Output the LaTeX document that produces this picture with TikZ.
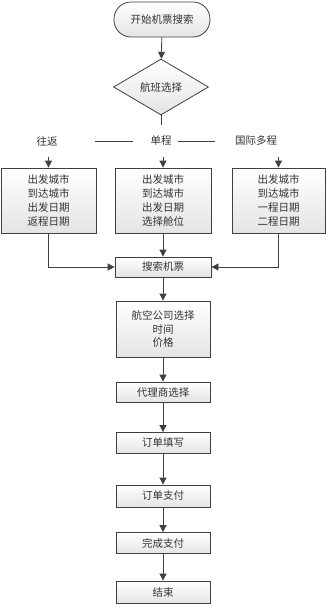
\documentclass[tikz,border=0pt]{standalone}
\usepackage{fontspec}
\setmainfont{Noto Sans CJK SC}
\usepackage{tikz}
\usetikzlibrary{arrows.meta,shapes.geometric}
\definecolor{flowLine}{RGB}{64,64,64}
\definecolor{flowText}{RGB}{51,51,51}
\definecolor{flowShade}{RGB}{228,228,228}
\tikzset{
  flowbox/.style={draw=flowLine, line width=0.8pt, top color=white, bottom color=flowShade,
    text=flowText, align=center, inner sep=0pt, font=\fontsize{10.5}{13.8}\selectfont},
  flowarrow/.style={draw=flowLine, line width=0.8pt, -{Triangle[length=7pt,width=7pt]}},
  flowline/.style={draw=flowLine, line width=0.8pt},
  branch/.style={text=flowText, inner sep=3pt, font=\fontsize{10.5}{12}\selectfont}
}

\begin{document}
\begin{tikzpicture}[x=1pt,y=-1pt]
\useasboundingbox (0,0) rectangle (328,608);

\node[flowbox, rounded corners=17pt, minimum width=96pt, minimum height=35pt] (start) at (162,19.5) {开始机票搜索};
\node[flowbox, diamond, minimum width=95pt, minimum height=56pt] (sel) at (161,87) {航班选择};

% branches
\coordinate (split) at (161,125);
\node[branch] (wf) at (47,141) {往返};
\node[branch] (dc) at (161,141) {单程};
\node[branch] (gj) at (256,141) {国际多程};

\node[flowbox, minimum width=95pt, minimum height=65pt] (b1) at (48.5,200.5) {出发城市\\到达城市\\出发日期\\返程日期};
\node[flowbox, minimum width=96pt, minimum height=65pt] (b2) at (163,200.5) {出发城市\\到达城市\\出发日期\\选择舱位};
\node[flowbox, minimum width=93pt, minimum height=65pt] (b3) at (278.5,200.5) {出发城市\\到达城市\\一程日期\\二程日期};

\node[flowbox, minimum width=96pt, minimum height=20pt] (search) at (163,267) {搜索机票};
\node[flowbox, minimum width=94pt, minimum height=56pt] (airline) at (163,329) {航空公司选择\\时间\\价格};
\node[flowbox, minimum width=94pt, minimum height=20pt] (agent) at (163,392) {代理商选择};
\node[flowbox, minimum width=94pt, minimum height=21pt] (order) at (163,443) {订单填写};
\node[flowbox, minimum width=94pt, minimum height=22pt] (pay) at (163,496) {订单支付};
\node[flowbox, minimum width=94pt, minimum height=21pt] (done) at (163,543) {完成支付};
\node[flowbox, minimum width=94pt, minimum height=22pt] (finish) at (163,592) {结束};

\draw[flowarrow] (start) -- (sel);
\draw[flowline] (sel.south) -- (split);
\draw[flowline, shorten <=34pt, shorten >=14pt] (wf.east) -- (dc.west);
\draw[flowline, shorten <=3pt, shorten >=17pt] (dc.east) -- (gj.west);
\draw[flowarrow, shorten <=8pt] (wf.south -| b1.north) -- (b1.north);
\draw[flowarrow, shorten <=8pt] (dc.south -| b2.north) -- (b2.north);
\draw[flowarrow, shorten <=8pt] (gj.south -| b3.north) -- (b3.north);

\draw[flowarrow] (b1.south) |- (search.west);
\draw[flowarrow] (b2.south) -- (search.north);
\draw[flowarrow] (b3.south) |- (search.east);

\draw[flowarrow] (search) -- (airline);
\draw[flowarrow] (airline) -- (agent);
\draw[flowarrow] (agent) -- (order);
\draw[flowarrow] (order) -- (pay);
\draw[flowarrow] (pay) -- (done);
\draw[flowarrow] (done) -- (finish);
\end{tikzpicture}
\end{document}
